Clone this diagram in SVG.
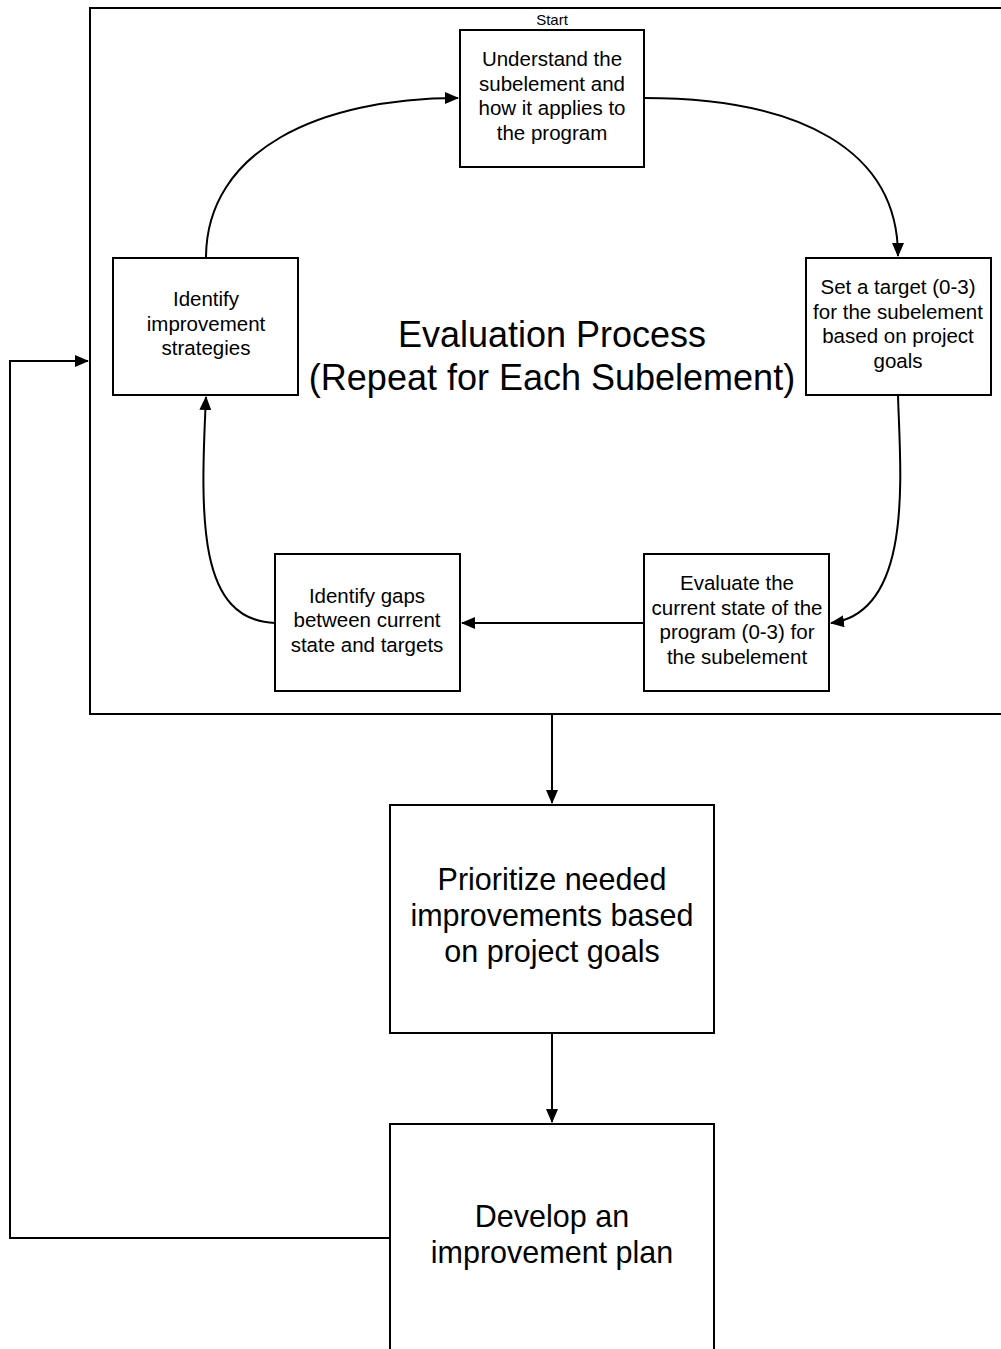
<svg xmlns="http://www.w3.org/2000/svg" width="1001" height="1349" viewBox="0 0 1001 1349">
<style>
.box{fill:#fff;stroke:#000;stroke-width:2}
.t{font-family:"Liberation Sans",Arial,sans-serif;fill:#000;text-anchor:middle}
.s{font-size:20.5px}
.l{font-size:30.5px}
.c{fill:none;stroke:#000;stroke-width:2}
</style>
<defs>
<marker id="ah" markerWidth="14" markerHeight="12" viewBox="0 0 14 12" refX="13" refY="6" orient="auto" markerUnits="userSpaceOnUse">
<path d="M0,0 L14,6 L0,12 Z" fill="#000"/>
</marker>
</defs>
<rect width="1001" height="1349" fill="#fff"/>
<g id="container">
<rect x="90" y="8" width="930" height="706" class="box"/>
<text x="552" y="25" class="t" font-size="15">Start</text>
<text x="552" y="347" class="t" font-size="36">Evaluation Process</text>
<text x="552" y="390" class="t" font-size="36">(Repeat for Each Subelement)</text>
</g>
<g id="connectors">
<path class="c" d="M206,258 C206,150 320,98 458,98" marker-end="url(#ah)"/>
<path class="c" d="M644,98 C800,98 898,150 898,256" marker-end="url(#ah)"/>
<path class="c" d="M898,395 C900,470 915,612 831,623" marker-end="url(#ah)"/>
<path class="c" d="M644,623 L462,623" marker-end="url(#ah)"/>
<path class="c" d="M275,623 C198,620 200,520 206,397" marker-end="url(#ah)"/>
<path class="c" d="M552,714 L552,803" marker-end="url(#ah)"/>
<path class="c" d="M552,1033 L552,1122" marker-end="url(#ah)"/>
<path class="c" d="M390,1238 L10,1238 L10,361 L88,361" marker-end="url(#ah)"/>
</g>
<g id="understand">
<rect x="460" y="30" width="184" height="137" class="box"/>
<text class="t s"><tspan x="552" y="66">Understand the</tspan><tspan x="552" y="91">subelement and</tspan><tspan x="552" y="115">how it applies to</tspan><tspan x="552" y="140">the program</tspan></text>
</g>
<g id="target">
<rect x="806" y="258" width="185" height="137" class="box"/>
<text class="t s"><tspan x="898" y="294">Set a target (0-3)</tspan><tspan x="898" y="319">for the subelement</tspan><tspan x="898" y="343">based on project</tspan><tspan x="898" y="368">goals</tspan></text>
</g>
<g id="evaluate">
<rect x="644" y="554" width="185" height="137" class="box"/>
<text class="t s"><tspan x="737" y="590">Evaluate the</tspan><tspan x="737" y="615">current state of the</tspan><tspan x="737" y="639">program (0-3) for</tspan><tspan x="737" y="664">the subelement</tspan></text>
</g>
<g id="gaps">
<rect x="275" y="554" width="185" height="137" class="box"/>
<text class="t s"><tspan x="367" y="603">Identify gaps</tspan><tspan x="367" y="627">between current</tspan><tspan x="367" y="652">state and targets</tspan></text>
</g>
<g id="strategies">
<rect x="113" y="258" width="185" height="137" class="box"/>
<text class="t s"><tspan x="206" y="306">Identify</tspan><tspan x="206" y="331">improvement</tspan><tspan x="206" y="355">strategies</tspan></text>
</g>
<g id="prioritize">
<rect x="390" y="805" width="324" height="228" class="box"/>
<text class="t l"><tspan x="552" y="890">Prioritize needed</tspan><tspan x="552" y="926">improvements based</tspan><tspan x="552" y="962">on project goals</tspan></text>
</g>
<g id="develop">
<rect x="390" y="1124" width="324" height="240" class="box"/>
<text class="t l"><tspan x="552" y="1227">Develop an</tspan><tspan x="552" y="1263">improvement plan</tspan></text>
</g>
</svg>
